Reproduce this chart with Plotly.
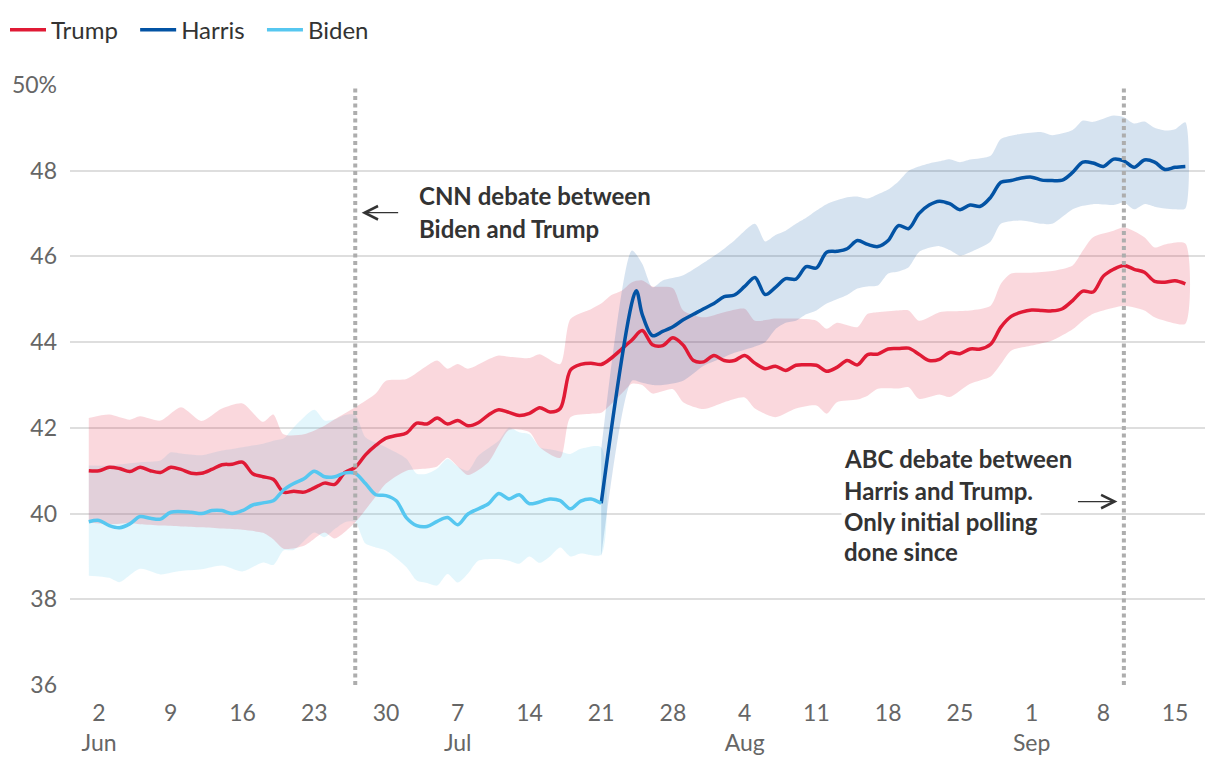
import plotly.graph_objects as go

YEAR = "2024-"

# ---------------- data ----------------
trump_dates = ["06-01","06-02","06-03","06-04","06-05","06-06","06-07","06-08","06-09","06-10",
               "06-11","06-12","06-13","06-14","06-15","06-16","06-17","06-18","06-19","06-20",
               "06-21","06-22","06-23","06-24","06-25","06-26","06-27","06-28","06-29","06-30",
               "07-01","07-02","07-03","07-04","07-05","07-06","07-07","07-08","07-09","07-10",
               "07-11","07-12","07-13","07-14","07-15","07-16","07-17","07-18","07-19","07-20",
               "07-21","07-22","07-23","07-24","07-25","07-26","07-27","07-28","07-29","07-30",
               "07-31","08-01","08-02","08-03","08-04","08-05","08-06","08-07","08-08","08-09",
               "08-10","08-11","08-12","08-13","08-14","08-15","08-16","08-17","08-18","08-19",
               "08-20","08-21","08-22","08-23","08-24","08-25","08-26","08-27","08-28","08-29",
               "08-30","08-31","09-01","09-02","09-03","09-04","09-05","09-06","09-07","09-08",
               "09-09","09-10","09-11","09-12","09-13","09-14","09-15","09-16"]
trump_share = [41.00,41.00,41.08,41.05,40.98,41.08,41.00,40.96,41.08,41.03,
               40.94,40.94,41.03,41.14,41.15,41.20,40.93,40.86,40.80,40.50,
               40.52,40.50,40.60,40.71,40.68,40.96,41.08,41.37,41.59,41.76,
               41.82,41.88,42.11,42.09,42.23,42.09,42.17,42.05,42.12,42.30,
               42.42,42.36,42.29,42.34,42.47,42.37,42.45,43.35,43.48,43.51,
               43.48,43.63,43.84,44.05,44.27,43.94,43.92,44.10,43.93,43.57,
               43.54,43.69,43.57,43.57,43.69,43.51,43.38,43.44,43.34,43.46,
               43.47,43.46,43.32,43.41,43.57,43.47,43.71,43.72,43.84,43.85,
               43.86,43.72,43.57,43.60,43.76,43.73,43.84,43.84,43.95,44.35,
               44.60,44.70,44.75,44.74,44.73,44.78,44.97,45.19,45.17,45.54,
               45.70,45.79,45.70,45.63,45.42,45.40,45.43,45.36]

trump_band_dates = ["06-01","06-03","06-05","06-06","06-08","06-10","06-12","06-14","06-16","06-18",
                    "06-19","06-20","06-22","06-24","06-25","06-27","06-29","06-30","07-02","07-04",
                    "07-05","07-06","07-07","07-08","07-10","07-11","07-12","07-14","07-15","07-17",
                    "07-18","07-20","07-21","07-22","07-23","07-24","07-25","07-26","07-28","07-29",
                    "07-31","08-02","08-04","08-05","08-07","08-09","08-11","08-12","08-13","08-15",
                    "08-16","08-17","08-19","08-20","08-21","08-23","08-24","08-26","08-28","08-29",
                    "08-30","09-01","09-03","09-05","09-06","09-07","09-09","09-10","09-12","09-13",
                    "09-14","09-16"]
trump_low = [39.80,39.75,39.78,39.75,39.72,39.70,39.68,39.65,39.62,39.55,
             39.40,39.18,39.25,39.56,39.42,39.80,40.40,40.70,41.00,41.05,
             41.10,41.30,41.10,40.90,41.20,41.60,41.95,41.90,41.55,41.30,
             42.25,42.33,42.35,42.56,42.80,43.03,43.00,42.80,42.90,42.60,
             42.44,42.60,42.71,42.45,42.25,42.45,42.52,42.33,42.60,42.66,
             42.75,42.91,42.92,42.95,42.68,42.78,42.72,43.03,43.20,43.49,
             43.80,43.92,44.04,44.30,44.50,44.66,44.80,44.85,44.74,44.58,
             44.50,44.43]
trump_high = [42.23,42.31,42.19,42.27,42.17,42.48,42.16,42.45,42.57,42.14,
              42.31,41.85,41.85,42.05,42.20,42.48,42.80,43.10,43.14,43.45,
              43.57,43.38,43.49,43.38,43.60,43.69,43.66,43.63,43.72,43.49,
              44.54,44.77,44.90,45.10,45.20,45.40,45.44,45.30,45.26,44.74,
              44.58,44.70,44.78,44.50,44.55,44.55,44.50,44.31,44.45,44.35,
              44.66,44.70,44.74,44.74,44.50,44.70,44.72,44.74,44.85,45.36,
              45.60,45.62,45.66,45.79,46.14,46.45,46.60,46.68,46.45,46.21,
              46.28,46.30]

harris_dates = ["07-21","07-24 10:00","07-25","07-26","07-27","07-28","07-29","07-30","07-31","08-01",
                "08-02","08-03","08-04","08-05","08-06","08-07","08-08","08-09","08-10","08-11",
                "08-12","08-13","08-14","08-15","08-16","08-17","08-18","08-19","08-20","08-21",
                "08-22","08-23","08-24","08-25","08-26","08-27","08-28","08-29","08-30","08-31",
                "09-01","09-02","09-03","09-04","09-05","09-06","09-07","09-08","09-09","09-10",
                "09-11","09-12","09-13","09-14","09-15","09-16"]
harris_share = [40.24,45.20,44.65,44.15,44.25,44.36,44.52,44.65,44.78,44.90,
                45.06,45.10,45.30,45.51,45.11,45.28,45.48,45.47,45.76,45.73,
                46.10,46.12,46.18,46.37,46.28,46.23,46.37,46.72,46.65,47.00,
                47.20,47.29,47.23,47.09,47.20,47.17,47.38,47.73,47.77,47.83,
                47.85,47.78,47.77,47.78,47.96,48.20,48.18,48.10,48.27,48.23,
                48.08,48.25,48.20,48.03,48.08,48.10]

harris_band_dates = ["07-21","07-24","07-25","07-26","07-27","07-29","07-31","08-02","08-03","08-05",
                     "08-06","08-07","08-08","08-09","08-10","08-11","08-12","08-14","08-15","08-16",
                     "08-17","08-18","08-19","08-20","08-21","08-22","08-23","08-24","08-25","08-26",
                     "08-28","08-29","08-31","09-02","09-03","09-05","09-06","09-07","09-09","09-10",
                     "09-11","09-12","09-13","09-14","09-15","09-16"]
harris_low = [39.00,43.10,43.05,43.00,43.00,43.10,43.45,43.65,43.75,43.90,
              44.00,44.30,44.45,44.50,44.65,44.74,44.90,45.10,45.25,45.30,
              45.32,45.60,45.65,45.75,46.10,46.20,46.24,46.15,46.02,46.10,
              46.35,46.76,46.84,46.76,46.76,47.10,47.18,47.22,47.20,47.26,
              47.10,47.22,47.16,47.12,47.10,47.12]
harris_high = [41.50,46.14,45.83,45.28,45.44,45.56,45.85,46.18,46.37,46.76,
               46.35,46.50,46.60,46.76,46.90,47.07,47.22,47.38,47.40,47.35,
               47.45,47.56,47.75,48.00,48.10,48.17,48.22,48.27,48.20,48.26,
               48.35,48.74,48.86,48.90,48.83,48.95,49.17,49.14,49.29,49.25,
               49.10,49.15,49.00,48.94,48.97,49.13]

biden_dates = ["06-01","06-02","06-03","06-04","06-05","06-06","06-07","06-08","06-09","06-11",
               "06-12","06-13","06-14","06-15","06-16","06-17","06-18","06-19","06-20","06-21",
               "06-22","06-23","06-24","06-25","06-26","06-27","06-28","06-29","06-30","07-01",
               "07-02","07-03","07-04","07-05","07-06","07-07","07-08","07-10","07-11","07-12",
               "07-13","07-14","07-16","07-17","07-18","07-19","07-20","07-21"]
biden_share = [39.81,39.84,39.72,39.67,39.76,39.93,39.89,39.87,40.03,40.03,
               40.00,40.07,40.07,40.00,40.07,40.20,40.25,40.30,40.55,40.70,
               40.81,40.99,40.86,40.86,40.95,40.94,40.70,40.44,40.42,40.30,
               39.90,39.72,39.70,39.82,39.91,39.74,39.99,40.23,40.47,40.34,
               40.44,40.23,40.34,40.30,40.11,40.29,40.34,40.24]

biden_band_dates = ["06-01","06-03","06-04","06-06","06-08","06-09","06-10","06-12","06-14","06-16",
                    "06-18","06-19","06-20","06-21","06-23","06-24","06-25","06-26","06-27","06-28",
                    "06-29","06-30","07-02","07-03","07-04","07-05","07-06","07-07","07-08","07-09",
                    "07-11","07-12","07-13","07-14","07-15","07-16","07-17","07-18","07-19","07-21"]
biden_low = [38.55,38.50,38.40,38.71,38.58,38.62,38.66,38.70,38.79,38.65,
             38.86,38.80,39.14,39.15,39.56,39.45,39.64,39.80,39.80,39.30,
             39.21,39.14,38.75,38.44,38.38,38.32,38.59,38.39,38.60,38.90,
             38.94,38.90,38.83,39.00,38.85,39.00,39.21,39.00,39.07,39.04]
biden_high = [41.12,41.12,41.15,41.20,41.24,41.43,41.40,41.36,41.47,41.55,
              41.63,41.70,41.75,42.01,42.42,42.17,42.20,42.30,42.30,41.78,
              41.65,41.55,41.28,40.93,40.93,41.05,41.28,41.10,41.00,41.35,
              41.70,42.01,41.90,41.85,41.55,41.50,41.45,41.39,41.51,41.55]

tick_dates = ["06-02","06-09","06-16","06-23","06-30","07-07","07-14","07-21","07-28",
              "08-04","08-11","08-18","08-25","09-01","09-08","09-15"]
tick_labels = ["2<br>Jun","9","16","23","30","7<br>Jul","14","21","28",
               "4<br>Aug","11","18","25","1<br>Sep","8","15"]
y_ticks = [36, 38, 40, 42, 44, 46, 48, 50]
y_tick_labels = ["36", "38", "40", "42", "44", "46", "48", "50%"]

cnn_debate = "06-27"
abc_debate = "09-10"

# ---------------- styles ----------------
TRUMP = "#E01A35"
HARRIS = "#0353A4"
BIDEN = "#56C7F0"
TRUMP_BAND = "rgba(224,26,53,0.17)"
HARRIS_BAND = "rgba(3,83,164,0.16)"
BIDEN_BAND = "rgba(86,199,240,0.17)"
FONT = "Lato"
TEXT = "#333333"
NBSP = "\u00a0"


def d(lst):
    return [YEAR + s for s in lst]


fig = go.Figure()


def band(dates, low, high, color):
    xs = d(dates)
    fig.add_trace(go.Scatter(
        x=xs + xs[::-1], y=high + low[::-1], fill="toself", fillcolor=color,
        mode="lines", line=dict(width=0, shape="spline", smoothing=0.7),
        hoverinfo="skip", showlegend=False))


band(biden_band_dates, biden_low, biden_high, BIDEN_BAND)
band(trump_band_dates, trump_low, trump_high, TRUMP_BAND)
band(harris_band_dates, harris_low, harris_high, HARRIS_BAND)

for name, dates, vals, col in [("Trump" + NBSP * 2, trump_dates, trump_share, TRUMP),
                               ("Harris" + NBSP * 2, harris_dates, harris_share, HARRIS),
                               ("Biden", biden_dates, biden_share, BIDEN)]:
    fig.add_trace(go.Scatter(
        x=d(dates), y=vals, mode="lines", name=name,
        line=dict(color=col, width=3.5, shape="spline", smoothing=0.9)))

# event lines
for ev in (cnn_debate, abc_debate):
    fig.add_shape(type="line", xref="x", yref="paper", x0=YEAR + ev, x1=YEAR + ev,
                  y0=0, y1=1, line=dict(color="#adadad", width=4, dash="4px,3.5px"),
                  layer="above")

# annotations (text lines)
ann_font = dict(family=FONT, size=24, color=TEXT, weight="bold")
cnn_lines = [("CNN debate between", 47.42), ("Biden and Trump", 46.65)]
for txt, yv in cnn_lines:
    fig.add_annotation(x=YEAR + "07-03", y=yv, text=txt, showarrow=False,
                       xanchor="left", yanchor="middle", font=ann_font)
abc_lines = [("ABC debate between", 41.28), ("Harris and Trump.", 40.54),
             ("Only initial polling", 39.81), ("done since", 39.11)]
for txt, yv in abc_lines:
    fig.add_annotation(x=YEAR + "08-13 09:00", y=yv, text=txt, showarrow=False,
                       xanchor="left", yanchor="middle", font=ann_font,
                       bgcolor="white", borderpad=2)

# arrows
fig.add_annotation(x=YEAR + "06-27 15:00", y=47.02, ax=YEAR + "07-01 08:00", ay=47.02,
                   axref="x", ayref="y", text="", showarrow=True,
                   arrowhead=5, arrowsize=2.2, arrowwidth=1.2, arrowcolor=TEXT)
fig.add_annotation(x=YEAR + "09-09 09:00", y=40.28, ax=YEAR + "09-05 09:00", ay=40.28,
                   axref="x", ayref="y", text="", showarrow=True,
                   arrowhead=5, arrowsize=2.2, arrowwidth=1.2, arrowcolor=TEXT)

fig.update_layout(
    width=1220, height=770,
    margin=dict(l=70, r=15, t=85, b=85),
    paper_bgcolor="white", plot_bgcolor="white",
    font=dict(family=FONT, size=23, color="#666666"),
    showlegend=True,
    legend=dict(orientation="h", xref="container", yref="container",
                x=0.0041, y=0.99, xanchor="left", yanchor="top",
                font=dict(family=FONT, size=24, color=TEXT),
                itemwidth=36, traceorder="normal"),
    xaxis=dict(range=[YEAR + "05-30 04:00", YEAR + "09-17 22:00"],
               tickmode="array", tickvals=d(tick_dates), ticktext=tick_labels,
               showgrid=False, zeroline=False, showline=False,
               ticks="", ticklabelstandoff=12,
               tickfont=dict(family=FONT, size=23, color="#666666")),
    yaxis=dict(range=[36, 50], tickmode="array", tickvals=y_ticks, ticktext=y_tick_labels,
               showgrid=True, gridcolor="#dedede", gridwidth=1.6, zeroline=False,
               showline=False, ticks="", ticklabelstandoff=12,
               tickfont=dict(family=FONT, size=23, color="#666666")),
    hovermode=False,
)

fig.write_html("out.html")
